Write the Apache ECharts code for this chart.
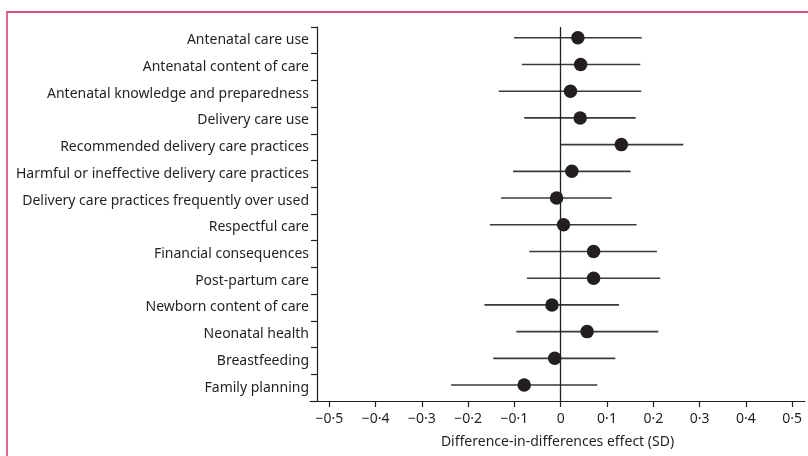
<!DOCTYPE html>
<html>
<head>
<meta charset="utf-8">
<script src="https://cdn.jsdelivr.net/npm/echarts@6/dist/echarts.min.js"></script>
<style>
  html, body { margin: 0; padding: 0; background: #fff; }
  #main { width: 808px; height: 456px; }
</style>
</head>
<body>
<div id="main"></div>
<script>
var outcomes = [
  'Antenatal care use',
  'Antenatal content of care',
  'Antenatal knowledge and preparedness',
  'Delivery care use',
  'Recommended delivery care practices',
  'Harmful or ineffective delivery care practices',
  'Delivery care practices frequently over used',
  'Respectful care',
  'Financial consequences',
  'Post-partum care',
  'Newborn content of care',
  'Neonatal health',
  'Breastfeeding',
  'Family planning'
];
var effect = [0.037, 0.043, 0.021, 0.042, 0.131, 0.024, -0.009, 0.006, 0.071, 0.071, -0.019, 0.057, -0.013, -0.079];
var ciLow = [-0.101, -0.084, -0.134, -0.079, -0.001, -0.103, -0.129, -0.153, -0.068, -0.073, -0.165, -0.096, -0.146, -0.237];
var ciHigh = [0.175, 0.172, 0.174, 0.162, 0.265, 0.151, 0.110, 0.164, 0.208, 0.215, 0.126, 0.211, 0.118, 0.079];
var xTicks = [-0.5, -0.4, -0.3, -0.2, -0.1, 0, 0.1, 0.2, 0.3, 0.4, 0.5];

var ink = '#231f20';
var font = 'Noto Sans';

function fmt(v) {
  if (Math.abs(v) < 1e-9) return '0';
  var s = Math.abs(v).toFixed(1).replace('.', '\u00b7');
  return (v < 0 ? '\u2212' : '') + s;
}

var chart = echarts.init(document.getElementById('main'));

var option = {
  backgroundColor: '#fff',
  animation: false,
  graphic: [
    { type: 'line', shape: { x1: 6, y1: 12, x2: 808, y2: 12 }, style: { stroke: '#c8174a', lineWidth: 1.5 } },
    { type: 'line', shape: { x1: 7, y1: 12, x2: 7, y2: 456 }, style: { stroke: '#e06a8c', lineWidth: 2 } }
  ],
  grid: [
    { left: 310, right: 3, top: 27, bottom: 55 },
    { left: 310, right: 3, top: 24.4, bottom: 57.6 }
  ],
  xAxis: [
    {
      gridIndex: 0, type: 'value', min: -0.542, max: 0.528,
      splitLine: { show: false },
      axisLine: { show: true, onZero: false, lineStyle: { color: ink, width: 1.2 } },
      axisTick: { show: true, length: 6, customValues: xTicks, lineStyle: { color: ink, width: 1.2 } },
      axisLabel: { customValues: xTicks, formatter: fmt, color: ink, fontFamily: font, fontSize: 14, margin: 11 },
      name: 'Difference-in-differences effect (SD)',
      nameLocation: 'middle', nameGap: 34,
      nameTextStyle: { color: ink, fontFamily: font, fontSize: 14 }
    },
    {
      gridIndex: 1, type: 'value', min: -0.542, max: 0.528, show: false
    }
  ],
  yAxis: [
    {
      gridIndex: 0, type: 'category', data: outcomes, inverse: true, offset: -7,
      axisLine: { show: true, onZero: false, lineStyle: { color: ink, width: 1.2 } },
      axisTick: { show: true, length: 6, lineStyle: { color: ink, width: 1.2 } },
      axisLabel: { color: ink, fontFamily: font, fontSize: 14, margin: 8, interval: 0, padding: [0, 0, 5, 0] },
      splitLine: { show: false }
    },
    {
      gridIndex: 1, type: 'category', data: outcomes, inverse: true, show: false
    }
  ],
  series: [
    {
      // vertical line at zero
      type: 'line', xAxisIndex: 0, yAxisIndex: 0, data: [], silent: true,
      markLine: {
        symbol: 'none', silent: true, label: { show: false },
        lineStyle: { color: ink, width: 1.3, type: 'solid' },
        data: [{ xAxis: 0 }]
      }
    },
    {
      type: 'custom', xAxisIndex: 1, yAxisIndex: 1,
      data: outcomes.map(function (c, i) { return [ciLow[i], ciHigh[i], i]; }),
      renderItem: function (params, api) {
        var a = api.coord([api.value(0), api.value(2)]);
        var b = api.coord([api.value(1), api.value(2)]);
        return {
          type: 'line',
          shape: { x1: a[0], y1: a[1], x2: b[0], y2: b[1] },
          style: { stroke: '#3a3a3a', lineWidth: 1.6 }
        };
      },
      z: 2
    },
    {
      type: 'scatter', xAxisIndex: 1, yAxisIndex: 1,
      data: outcomes.map(function (c, i) { return [effect[i], i]; }),
      symbol: 'circle', symbolSize: 13.5,
      itemStyle: { color: ink, opacity: 1 },
      z: 3
    }
  ]
};

chart.setOption(option);
</script>
</body>
</html>
